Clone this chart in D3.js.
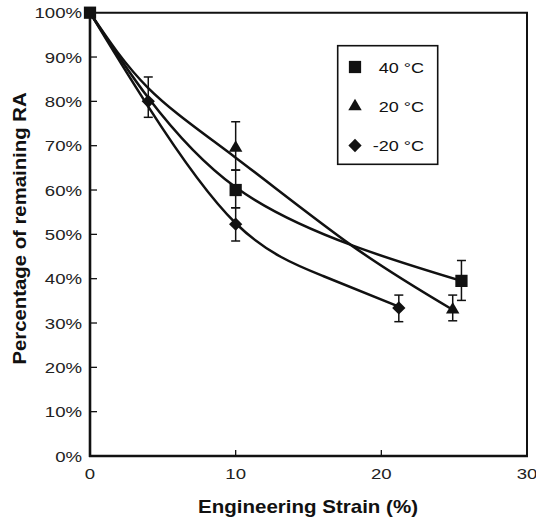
<!DOCTYPE html>
<html lang="en">
<head>
  <meta charset="UTF-8">
  <title>Percentage of remaining RA</title>
  <script src="https://d3js.org/d3.v7.min.js"></script>
  <style>
    body { margin: 0; background: #fff; }
    svg { display: block; font-family: "Liberation Sans", Arial, sans-serif; }
    .tick-label { font-size: 15.5px; fill: #222; }
    .axis-title { font-size: 18px; font-weight: bold; fill: #111; }
    .legend-label { font-size: 15px; fill: #111; }
  </style>
</head>
<body>
  <svg width="536" height="519"></svg>

  <script>
    // tick labels
    const xTicks = [0, 10, 20, 30];
    const yTicks = [0, 10, 20, 30, 40, 50, 60, 70, 80, 90, 100];

    // series names
    const seriesNames = ["40 °C", "20 °C", "-20 °C"];
    const seriesSymbols = ["square", "triangle", "diamond"];

    // measured points [strain, percent]
    const pts40 = [[0, 100], [10, 60], [25.5, 39.5]];
    const pts20 = [[10, 69.5], [24.9, 33]];
    const ptsM20 = [[4, 80], [10, 52.3], [21.2, 33.4]];

    // error bars [strain, low, high]
    const err40 = [[10, 56, 64.5], [25.5, 35.1, 44.1]];
    const err20 = [[10, 64.5, 75.4], [24.9, 30.5, 36.3]];
    const errM20 = [[4, 76.4, 85.5], [10, 48.5, 56], [21.2, 30.3, 36.3]];

    // fitted trend lines
    const fit40 = [[0, 100], [4, 80.8], [10, 60.6], [18, 47.5], [25.5, 39.5]];
    const fit20 = [[0, 100], [4, 83], [10, 67.3], [18, 47.4], [24.9, 33]];
    const fitM20 = [[0, 100], [4, 78.8], [10, 52.5], [16, 40.6], [21.2, 33.7]];

    const svg = d3.select("svg");

    const x = d3.scaleLinear().domain([0, 30]).range([90, 527]);
    const y = d3.scaleLinear().domain([0, 100]).range([456, 12.7]);

    // text helper: the scanned figure is stretched sideways a little
    function label(g, cls, tx, ty, sx, anchor, str, rot) {
      return g.append("text")
        .attr("class", cls)
        .attr("transform", `translate(${tx},${ty})` + (rot ? ` rotate(${rot})` : "") + ` scale(${sx},1)`)
        .attr("text-anchor", anchor)
        .text(str);
    }

    // frame (top + right)
    svg.append("path")
      .attr("d", `M${x(0)},${y(100)}H${x(30)}V${y(0)}`)
      .attr("fill", "none")
      .attr("stroke", "#111")
      .attr("stroke-width", 2);

    // axes
    svg.append("line")
      .attr("x1", x(0)).attr("x2", x(0))
      .attr("y1", y(0) + 1).attr("y2", y(100))
      .attr("stroke", "#111").attr("stroke-width", 2.6);
    svg.append("line")
      .attr("x1", x(0) - 1).attr("x2", x(30) + 1)
      .attr("y1", y(0)).attr("y2", y(0))
      .attr("stroke", "#111").attr("stroke-width", 2.6);

    // y ticks (inward)
    svg.append("g").selectAll("line")
      .data(yTicks.filter(d => d > 0 && d < 100))
      .enter().append("line")
      .attr("x1", x(0)).attr("x2", x(0) + 7)
      .attr("y1", d => y(d)).attr("y2", d => y(d))
      .attr("stroke", "#111").attr("stroke-width", 1.3);

    const yLab = svg.append("g");
    yTicks.forEach(d => label(yLab, "tick-label", 82, y(d) + 5.5, 1.2, "end", d + "%"));

    // x ticks (inward)
    svg.append("g").selectAll("line")
      .data(xTicks.filter(d => d > 0 && d < 30))
      .enter().append("line")
      .attr("x1", d => x(d)).attr("x2", d => x(d))
      .attr("y1", y(0)).attr("y2", y(0) - 6)
      .attr("stroke", "#111").attr("stroke-width", 1.3);

    const xLab = svg.append("g");
    xTicks.forEach(d => label(xLab, "tick-label", x(d), 479, 1.2, "middle", d));

    // axis titles
    label(svg, "axis-title", 308, 513, 1.14, "middle", "Engineering Strain (%)");
    label(svg, "axis-title", 26, 228.5, 1.13, "middle", "Percentage of remaining RA", -90);

    // fit curves
    const line = d3.line()
      .x(d => x(d[0]))
      .y(d => y(d[1]))
      .curve(d3.curveNatural);

    svg.append("g").selectAll("path")
      .data([fit40, fit20, fitM20])
      .enter().append("path")
      .attr("d", line)
      .attr("fill", "none")
      .attr("stroke", "#111")
      .attr("stroke-width", 2.5);

    // error bars
    const allErr = err40.concat(err20, errM20);
    const eb = svg.append("g").attr("stroke", "#111").attr("stroke-width", 1.5);
    allErr.forEach(e => {
      const cx = x(e[0]);
      eb.append("line").attr("x1", cx).attr("x2", cx).attr("y1", y(e[1])).attr("y2", y(e[2]));
      eb.append("line").attr("x1", cx - 4.5).attr("x2", cx + 4.5).attr("y1", y(e[1])).attr("y2", y(e[1]));
      eb.append("line").attr("x1", cx - 4.5).attr("x2", cx + 4.5).attr("y1", y(e[2])).attr("y2", y(e[2]));
    });

    // markers
    const symbolPath = {
      square: d3.symbol().type(d3.symbolSquare).size(150)(),
      triangle: d3.symbol().type(d3.symbolTriangle).size(78)(),
      diamond: d3.symbol().type(d3.symbolSquare).size(88)()
    };

    function drawMarkers(data, kind) {
      svg.append("g").selectAll("path")
        .data(data)
        .enter().append("path")
        .attr("d", symbolPath[kind])
        .attr("fill", "#111")
        .attr("transform", d => `translate(${x(d[0])},${y(d[1])})` + (kind === "diamond" ? " rotate(45)" : ""));
    }
    drawMarkers(pts40, "square");
    drawMarkers(pts20, "triangle");
    drawMarkers(ptsM20, "diamond");

    // legend
    const legend = svg.append("g");
    legend.append("rect")
      .attr("x", 337.7).attr("y", 45.7)
      .attr("width", 100).attr("height", 118.6)
      .attr("fill", "#fff")
      .attr("stroke", "#111")
      .attr("stroke-width", 1.6);

    const legendRows = [67, 106.5, 145.5];
    seriesNames.forEach((name, i) => {
      legend.append("path")
        .attr("d", symbolPath[seriesSymbols[i]])
        .attr("fill", "#111")
        .attr("transform", `translate(355,${legendRows[i]})` + (seriesSymbols[i] === "diamond" ? " rotate(45)" : ""));
      label(legend, "legend-label", 424, legendRows[i] + 5.5, 1.2, "end", name);
    });
  </script>
</body>
</html>
